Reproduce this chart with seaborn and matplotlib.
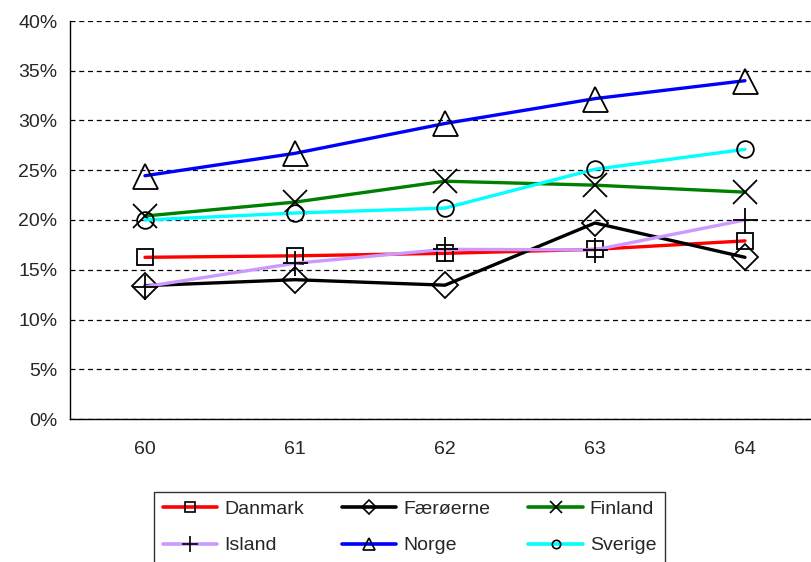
import pandas as pd
import matplotlib.pyplot as plt
import seaborn as sns
from matplotlib.lines import Line2D
from matplotlib.ticker import FuncFormatter

# data
years = ['60', '61', '62', '63', '64']
danmark = [16.25, 16.4, 16.65, 17.05, 17.9]
faeroerne = [13.4, 14.0, 13.45, 19.7, 16.25]
finland = [20.4, 21.8, 23.9, 23.5, 22.8]
island = [13.3, 15.65, 17.05, 17.0, 20.0]
norge = [24.45, 26.7, 29.7, 32.2, 34.0]
sverige = [20.0, 20.7, 21.2, 25.1, 27.1]

countries = ['Danmark', 'Færøerne', 'Finland', 'Island', 'Norge', 'Sverige']
values = [danmark, faeroerne, finland, island, norge, sverige]
colors = ['#ff0000', '#000000', '#008000', '#cc99ff', '#0000ff', '#00ffff']
markers = ['s', 'D', 'x', '+', '^', 'o']
msizes = [12, 13, 17, 18, 18, 12]
lmsizes = [7, 7, 9, 11, 9, 6]

rows = []
for c, vals in zip(countries, values):
    for i, v in enumerate(vals):
        rows.append({'land': c, 'pos': i, 'andel': v})
df = pd.DataFrame(rows)

sns.set_style('white')
plt.rcParams['font.family'] = ['Liberation Sans', 'DejaVu Sans']

fig = plt.figure(figsize=(8.12, 5.62), dpi=100)
ax = fig.add_axes([70 / 812, 1 - 419 / 562, 1 - 70 / 812, (419 - 21) / 562])

for c, col, m, ms in zip(countries, colors, markers, msizes):
    sub = df[df['land'] == c]
    sns.lineplot(data=sub, x='pos', y='andel', ax=ax, color=col, linewidth=2.4,
                 marker=m, markersize=ms, markerfacecolor='none',
                 markeredgecolor='black', markeredgewidth=1.3, legend=False)

ax.set_ylim(0, 40)
ax.set_yticks(range(0, 41, 5))
ax.yaxis.set_major_formatter(FuncFormatter(lambda v, p: f'{int(v)}%'))
ax.set_xlim(-0.5, 4.447)
ax.set_xticks([-0.5, 0.5, 1.5, 2.5, 3.5])
ax.set_xticklabels([])
ax.set_xticks(range(5), minor=True)
ax.set_xticklabels(years, minor=True)
ax.tick_params(axis='x', which='major', length=6, width=1, color='black', direction='out')
ax.tick_params(axis='x', which='minor', length=0, pad=16, labelsize=14)
ax.tick_params(axis='y', length=5, width=1, color='black', direction='out',
               labelsize=14, pad=4)
ax.set_xlabel('')
ax.set_ylabel('')

ax.grid(axis='y', color='black', linestyle=(0, (4, 3)), linewidth=0.9)
ax.grid(axis='x', visible=False)
ax.set_axisbelow(True)
for s in ['top', 'right']:
    ax.spines[s].set_visible(False)
for s in ['left', 'bottom']:
    ax.spines[s].set_color('black')
    ax.spines[s].set_linewidth(1)

handles = [Line2D([0], [0], color=col, lw=2.6, marker=m, markersize=lms,
                  markerfacecolor='none', markeredgecolor='black', markeredgewidth=1.2)
           for col, m, lms in zip(colors, markers, lmsizes)]
# legend fills by column; reorder so that it reads row by row
order = [0, 3, 1, 4, 2, 5]
leg = fig.legend([handles[i] for i in order], [countries[i] for i in order],
                 ncol=3, loc='lower left',
                 bbox_to_anchor=(154 / 812, -0.002, (665 - 154) / 812, (562 - 485) / 562),
                 mode='expand', frameon=True, fancybox=False, fontsize=14,
                 handlelength=2.8, handletextpad=0.35, columnspacing=1.5,
                 labelspacing=0.95, borderaxespad=0, borderpad=0.45)
leg.get_frame().set_edgecolor('black')
leg.get_frame().set_linewidth(1)

fig.savefig('out.png', dpi=100)
